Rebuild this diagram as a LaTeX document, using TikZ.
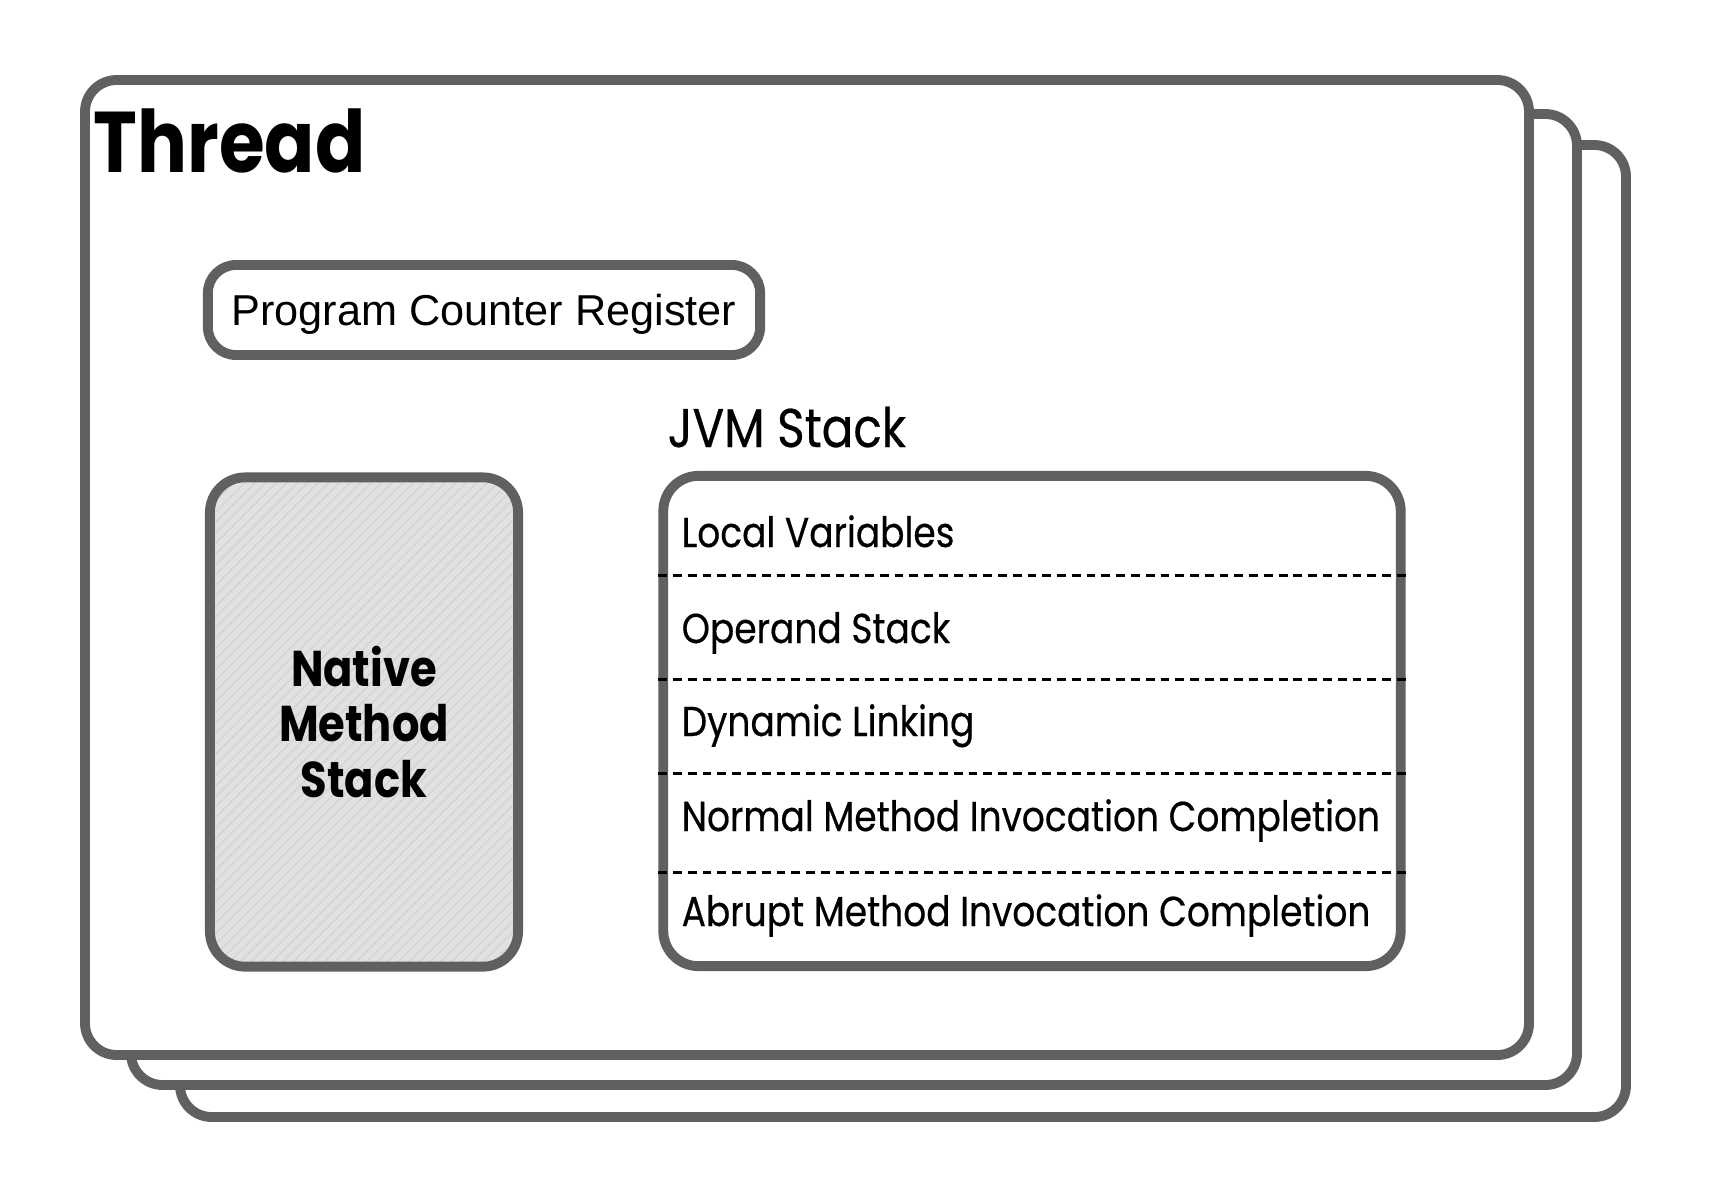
\documentclass[tikz,border=0pt]{standalone}
\usepackage{fontspec}
\setmainfont{Liberation Sans}
\newfontfamily\futura[FakeStretch=0.86, UprightFeatures={FakeBold=0.4}]{Poppins}
\usepackage{tikz}
\usetikzlibrary{positioning, calc, patterns}
\definecolor{mygray}{RGB}{96,96,96}
\definecolor{myfill}{RGB}{225,225,225}
\definecolor{myhatch}{RGB}{212,212,212}
\tikzset{
  frame/.style={draw=mygray, fill=white, line width=2.8pt, rounded corners=9pt},
  pcbox/.style={rectangle, draw=mygray, fill=white, line width=2.8pt,
    rounded corners=8pt, minimum width=5.52cm, minimum height=0.9cm,
    inner sep=0pt, text depth=0pt, font=\fontsize{12.3}{14}\selectfont},
  nativebox/.style={rectangle, draw=mygray, line width=2.8pt, rounded corners=10pt,
    preaction={fill=myfill}, pattern=north east lines, pattern color=myhatch,
    minimum width=3.08cm, minimum height=4.89cm, align=center, inner sep=0pt,
    font=\futura\bfseries\fontsize{14.3}{15.8}\selectfont},
  jvmbox/.style={rectangle, draw=mygray, fill=white, line width=2.8pt,
    rounded corners=10pt, minimum width=7.37cm, minimum height=4.9cm},
  title/.style={inner sep=0pt, font=\futura\bfseries\fontsize{24.5}{30}\selectfont},
  label/.style={inner sep=0pt, font=\futura\fontsize{15.5}{18}\selectfont},
  row/.style={inner sep=0pt, font=\futura\fontsize{11.9}{14}\selectfont},
  sep/.style={line width=0.85pt, dash pattern=on 2.5pt off 1.7pt}
}
\begin{document}
\begin{tikzpicture}[x=0.01cm, y=-0.01cm]
  \useasboundingbox (0,0) rectangle (1709,1202);

  % Stacked thread frames, back to front
  \draw[frame] (180,145) rectangle (1626,1117);
  \draw[frame] (131,114) rectangle (1577,1085);
  \draw[frame] (85,80) rectangle (1529,1055);
  \node[title, anchor=base west] (thread) at (93,172) {Thread};

  % Program counter
  \node[pcbox] (pc) at (484,310) {Program Counter Register};

  % Native method stack
  \node[nativebox] (native) at (364,722) {Native\\Method\\Stack};

  % JVM stack with its frame parts
  \node[label, anchor=base west] (jvmtitle) at (667,447) {JVM Stack};
  \node[jvmbox] (jvm) at (1032,721) {};
  \node[row, anchor=base west] (lv) at (681,547) {Local Variables};
  \node[row, anchor=base west] (os) at (681,643) {Operand Stack};
  \node[row, anchor=base west] (dl) at (681,736) {Dynamic Linking};
  \node[row, anchor=base west] (nc) at (681,831) {Normal Method Invocation Completion};
  \node[row, anchor=base west] (ac) at (681,926) {Abrupt Method Invocation Completion};
  \foreach \y in {575,679,773,872}
    \draw[sep] (jvm.west |- 0,\y) -- (jvm.east |- 0,\y);
\end{tikzpicture}
\end{document}
